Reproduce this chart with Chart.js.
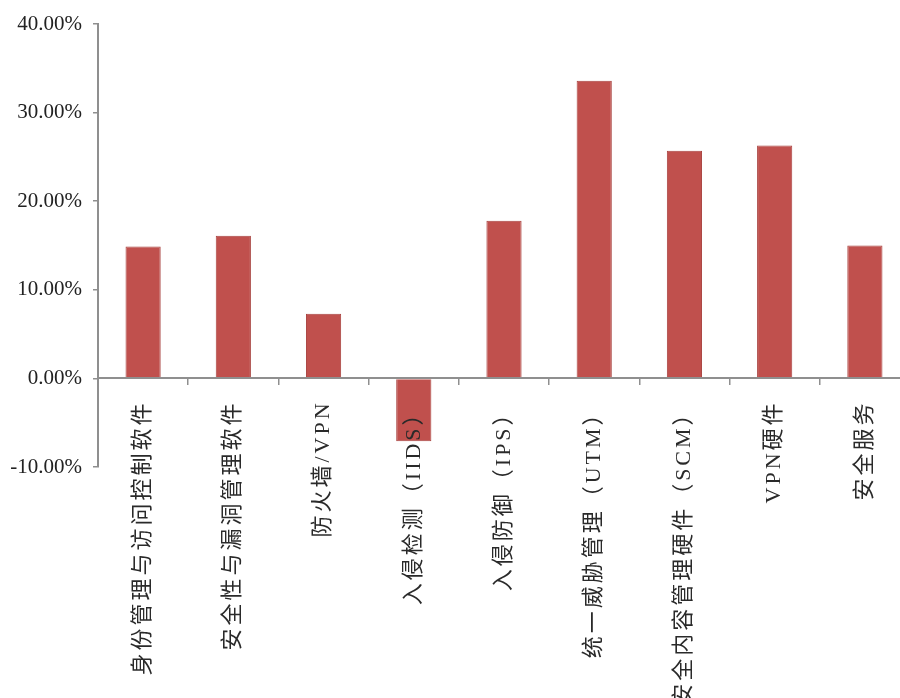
<!DOCTYPE html>
<html>
<head>
<meta charset="utf-8">
<script src="https://cdn.jsdelivr.net/npm/chart.js@4.4.1/dist/chart.umd.min.js"></script>
<style>
  html, body { margin: 0; padding: 0; background: #fff; overflow: hidden; }
  #wrap { width: 912px; height: 698px; position: relative; }
</style>
</head>
<body>
<div id="wrap"><canvas id="chart"></canvas></div>
<script>
const categories = [
  "身份管理与访问控制软件",
  "安全性与漏洞管理软件",
  "防火墙/VPN",
  "入侵检测（IIDS）",
  "入侵防御（IPS）",
  "统一威胁管理（UTM）",
  "安全内容管理硬件（SCM）",
  "VPN硬件",
  "安全服务"
];
const growth = [14.9, 16.1, 7.3, -7.1, 17.8, 33.6, 25.7, 26.3, 15.0];
const yTicks = [-10, 0, 10, 20, 30, 40];

// category axis that draws its labels with wider letter spacing
class SpacedCategoryScale extends Chart.CategoryScale {
  drawLabels(area) {
    const ctx = this.ctx;
    ctx.save();
    ctx.letterSpacing = "3px";
    super.drawLabels(area);
    ctx.restore();
  }
}
SpacedCategoryScale.id = "spacedCategory";
SpacedCategoryScale.defaults = Chart.CategoryScale.defaults;
Chart.register(SpacedCategoryScale);

const axisGray = "#8f8f8f";

new Chart(document.getElementById("chart"), {
  type: "bar",
  data: {
    labels: categories,
    datasets: [{
      data: growth,
      backgroundColor: "#C0504D",
      borderColor: "#A8423F",
      borderWidth: 1,
      barPercentage: 0.39,
      categoryPercentage: 1
    }]
  },
  options: {
    responsive: true,
    maintainAspectRatio: false,
    animation: false,
    layout: { padding: { top: 24, right: 2, bottom: 231, left: 0 } },
    plugins: { legend: { display: false }, tooltip: { enabled: false } },
    scales: {
      x: {
        type: "spacedCategory",
        position: { y: 0 },
        afterFit: s => { s.height = 0; },
        grid: { display: true, drawOnChartArea: false, drawTicks: true, tickLength: 6, color: axisGray, lineWidth: 1.5 },
        border: { display: true, color: axisGray, width: 2, z: 1 },
        ticks: {
          z: 1,
          autoSkip: false,
          minRotation: 90,
          maxRotation: 90,
          padding: 16,
          color: "#2a2a2a",
          font: { family: "'Liberation Serif', 'Noto Sans CJK SC', serif", size: 22 }
        }
      },
      y: {
        min: -10,
        max: 40,
        afterFit: s => { s.width = 98; },
        afterBuildTicks: s => { s.ticks = yTicks.map(v => ({ value: v })); },
        grid: { display: true, drawOnChartArea: false, drawTicks: true, tickLength: 5, color: axisGray, lineWidth: 1.5 },
        border: { display: true, color: axisGray, width: 2 },
        ticks: {
          padding: 11,
          color: "#222",
          font: { family: "'Liberation Serif', serif", size: 21 },
          callback: v => v.toFixed(2) + "%"
        }
      }
    }
  }
});
</script>
</body>
</html>
